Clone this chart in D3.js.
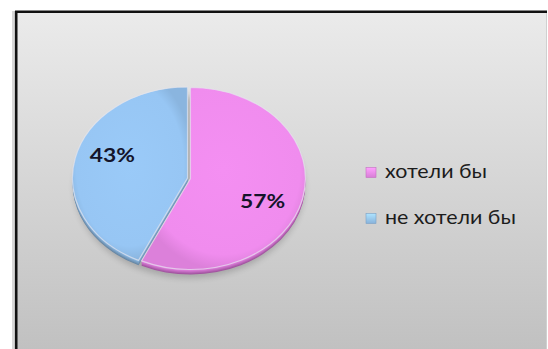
<!DOCTYPE html>
<html>
<head>
<meta charset="utf-8">
<script src="https://cdn.jsdelivr.net/npm/d3@7"></script>
<style>
  html, body { margin: 0; padding: 0; background: #ffffff; }
  svg { display: block; }
</style>
</head>
<body>
<svg id="chart" width="548" height="349"></svg>
<script>
// Survey answers
const categories = ["хотели бы", "не хотели бы"];
const values = [57, 43];
const percentLabels = ["57%", "43%"];
const colors = ["#f08cee", "#97c6f4"];
const sideColors = ["#9a4f98", "#62809c"];

const W = 548, H = 349;
const svg = d3.select("#chart");
const defs = svg.append("defs");

// chart area background
const bg = defs.append("linearGradient").attr("id", "bg")
  .attr("x1", 0).attr("y1", 0).attr("x2", 0).attr("y2", 1);
bg.append("stop").attr("offset", "0%").attr("stop-color", "#ebebeb");
bg.append("stop").attr("offset", "100%").attr("stop-color", "#bebebe");

const blur = defs.append("filter").attr("id", "soft")
  .attr("x", "-20%").attr("y", "-20%").attr("width", "140%").attr("height", "140%");
blur.append("feGaussianBlur").attr("stdDeviation", 3);

const edgeBlur = defs.append("filter").attr("id", "edge");
edgeBlur.append("feGaussianBlur").attr("stdDeviation", 0.6);

// slice face shading
colors.forEach((c, i) => {
  const g = defs.append("radialGradient").attr("id", "face" + i)
    .attr("cx", "50%").attr("cy", "45%").attr("r", "55%");
  g.append("stop").attr("offset", "0%").attr("stop-color", d3.color(c).brighter(0.05));
  g.append("stop").attr("offset", "85%").attr("stop-color", c);
  g.append("stop").attr("offset", "100%").attr("stop-color", d3.color(c).darker(0.25));
});

// frame
const frame = { x: 15, y: 11, w: 532, h: 360 };
svg.append("rect").attr("x", frame.x - 3).attr("y", frame.y).attr("width", 3).attr("height", H)
  .attr("fill", "#d8d8d8").attr("filter", "url(#edge)");
svg.append("rect").attr("x", frame.x).attr("y", frame.y)
  .attr("width", frame.w).attr("height", frame.h).attr("fill", "url(#bg)");
svg.append("line").attr("x1", frame.x + frame.w - 0.5).attr("x2", frame.x + frame.w - 0.5)
  .attr("y1", frame.y).attr("y2", H).attr("stroke", "#d0d0d0").attr("stroke-width", 1);
svg.append("line").attr("x1", frame.x + 1.2).attr("x2", frame.x + 1.2)
  .attr("y1", frame.y).attr("y2", H).attr("stroke", "#111").attr("stroke-width", 2.6);
svg.append("line").attr("x1", frame.x).attr("x2", frame.x + frame.w)
  .attr("y1", frame.y + 0.8).attr("y2", frame.y + 0.8).attr("stroke", "#111").attr("stroke-width", 2.4);

// pie geometry (tilted disc)
const cx = 187.5, cy = 178, rx = 115, ry = 91, depth = 5;
const k = ry / rx;
const pie = d3.pie().sort(null).value(d => d)(values);
const arc = d3.arc().innerRadius(0).outerRadius(rx);
const explode = [3, 0];

const labelStretch = 1.17;
const legendStretch = 1.1;

// soft shadow under the disc
svg.append("ellipse").attr("cx", cx + 2).attr("cy", cy + depth + 4)
  .attr("rx", rx).attr("ry", ry).attr("fill", "#000").attr("opacity", 0.18)
  .attr("filter", "url(#soft)");

const pieG = svg.append("g");

function sliceOffset(d, i) {
  const a = (d.startAngle + d.endAngle) / 2;
  return [Math.sin(a) * explode[i], -Math.cos(a) * explode[i] * k];
}

// side of the disc
pie.forEach((d, i) => {
  const [ox, oy] = sliceOffset(d, i);
  for (let s = depth; s >= 1; s--) {
    pieG.append("path")
      .attr("transform", `translate(${cx + ox},${cy + oy + s}) scale(1,${k})`)
      .attr("d", arc(d))
      .attr("fill", d3.interpolateRgb(sideColors[i], colors[i])(1 - s / depth * 0.9));
  }
});

// top faces
pie.forEach((d, i) => {
  const [ox, oy] = sliceOffset(d, i);
  pieG.append("path")
    .attr("transform", `translate(${cx + ox},${cy + oy}) scale(1,${k})`)
    .attr("d", arc(d))
    .attr("fill", `url(#face${i})`)
    .attr("stroke", "#e6e6ee")
    .attr("stroke-width", 1.2)
    .attr("stroke-opacity", 0.7)
    .attr("vector-effect", "non-scaling-stroke");
});

// percentage labels
const labelRadius = 0.67;
const labelNudge = [[0, 10], [0, -10]];
pie.forEach((d, i) => {
  const a = (d.startAngle + d.endAngle) / 2;
  const lx = cx + Math.sin(a) * rx * labelRadius + labelNudge[i][0];
  const ly = cy - Math.cos(a) * ry * labelRadius + labelNudge[i][1];
  svg.append("text")
    .attr("transform", `translate(${lx},${ly}) scale(${labelStretch},1)`)
    .attr("text-anchor", "middle")
    .attr("dy", "0.36em")
    .attr("font-family", "Lato, 'Open Sans', sans-serif")
    .attr("font-weight", "bold")
    .attr("font-size", 19.5)
    .attr("fill", "#14142a")
    .text(percentLabels[i]);
});

// legend
const legend = svg.append("g").attr("transform", "translate(366,0)");
const legendY = d3.scalePoint().domain(categories).range([172, 218]);
categories.forEach((c, i) => {
  const y = legendY(c);
  const mg = defs.append("linearGradient").attr("id", "mark" + i)
    .attr("x1", 0).attr("y1", 0).attr("x2", 0).attr("y2", 1);
  mg.append("stop").attr("offset", "0%").attr("stop-color", d3.color(colors[i]).brighter(0.4));
  mg.append("stop").attr("offset", "100%").attr("stop-color", d3.color(colors[i]).darker(0.3));
  legend.append("rect").attr("x", 0).attr("y", y - 4.5)
    .attr("width", 10).attr("height", 10)
    .attr("fill", `url(#mark${i})`).attr("stroke", d3.color(colors[i]).darker(0.6)).attr("stroke-width", 0.6);
  legend.append("text")
    .attr("transform", `translate(19,${y}) scale(${legendStretch},1)`)
    .attr("dy", "0.32em")
    .attr("font-family", "Lato, 'Open Sans', sans-serif")
    .attr("font-size", 19.5)
    .attr("fill", "#1c1c1c")
    .text(c);
});
</script>
</body>
</html>
